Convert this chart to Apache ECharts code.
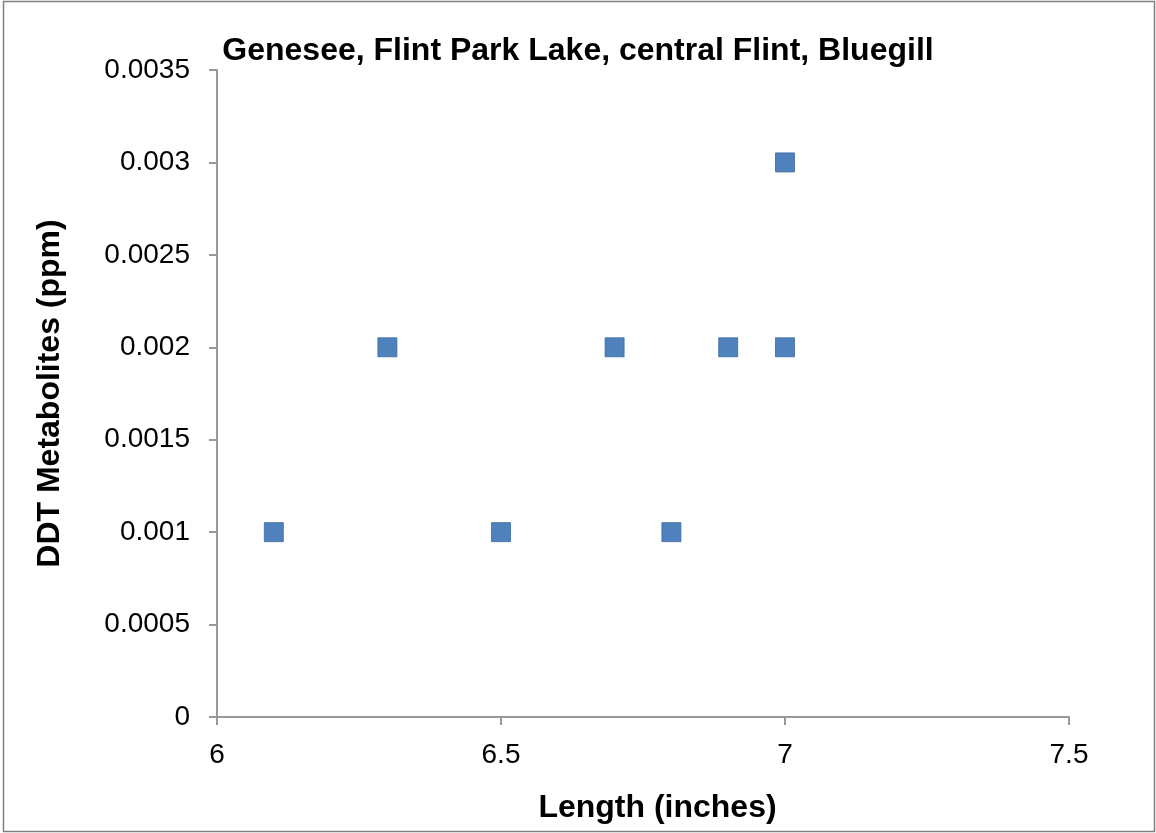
<!DOCTYPE html>
<html><head><meta charset="utf-8">
<script src="https://cdn.jsdelivr.net/npm/echarts@6/dist/echarts.min.js"></script>
<style>html,body{margin:0;padding:0;background:#fff}#c{width:1156px;height:833px}</style>
</head><body><div id="c"></div>
<script>
const lengths = [6.1, 6.3, 6.5, 6.7, 6.8, 6.9, 7.0, 7.0];
const ddt = [0.001, 0.002, 0.001, 0.002, 0.001, 0.002, 0.003, 0.002];
const titleText = 'Genesee, Flint Park Lake, central Flint, Bluegill';
const xName = 'Length (inches)';
const yName = 'DDT Metabolites (ppm)';

const chart = echarts.init(document.getElementById('c'), null, {renderer: 'canvas'});
const font = 'Liberation Sans, Arial, sans-serif';
chart.setOption({
  animation: false,
  backgroundColor: '#fff',
  title: {
    text: titleText, left: 573, top: 30, textAlign: 'center',
    textStyle: {fontFamily: font, fontSize: 32, fontWeight: 'bold', color: '#000'}
  },
  grid: {left: 217, right: 87, top: 70, bottom: 116, containLabel: false},
  xAxis: {
    type: 'value', min: 6, max: 7.5, interval: 0.5,
    name: xName, nameLocation: 'middle', nameGap: 75,
    nameTextStyle: {fontFamily: font, fontSize: 32, fontWeight: 'bold', color: '#000', padding: [0, 0, 0, 29]},
    axisLine: {show: true, lineStyle: {color: '#999', width: 2}},
    axisTick: {show: true, length: 8, lineStyle: {color: '#999', width: 2}},
    axisLabel: {fontFamily: font, fontSize: 28, color: '#000', margin: 24},
    splitLine: {show: false}
  },
  yAxis: {
    type: 'value', min: 0, max: 0.0035, interval: 0.0005,
    name: yName, nameLocation: 'middle', nameGap: 151, nameRotate: 90,
    nameTextStyle: {fontFamily: font, fontSize: 32, fontWeight: 'bold', color: '#000'},
    axisLine: {show: true, lineStyle: {color: '#999', width: 2}},
    axisTick: {show: true, length: 8, lineStyle: {color: '#999', width: 2}},
    axisLabel: {fontFamily: font, fontSize: 28, color: '#000', margin: 27,
      formatter: v => String(Number(v.toFixed(4)))},
    splitLine: {show: false}
  },
  graphic: [{
    type: 'rect', shape: {x: 3.5, y: 1.5, width: 1151, height: 830},
    style: {fill: null, stroke: '#808080', lineWidth: 1.5}, silent: true
  }],
  series: [{
    type: 'scatter', symbol: 'rect', symbolSize: 19,
    itemStyle: {color: '#4F81BD', opacity: 1, borderColor: '#3A6A9F', borderWidth: 0.8},
    data: lengths.map((x, i) => [x, ddt[i]])
  }]
});
</script></body></html>
